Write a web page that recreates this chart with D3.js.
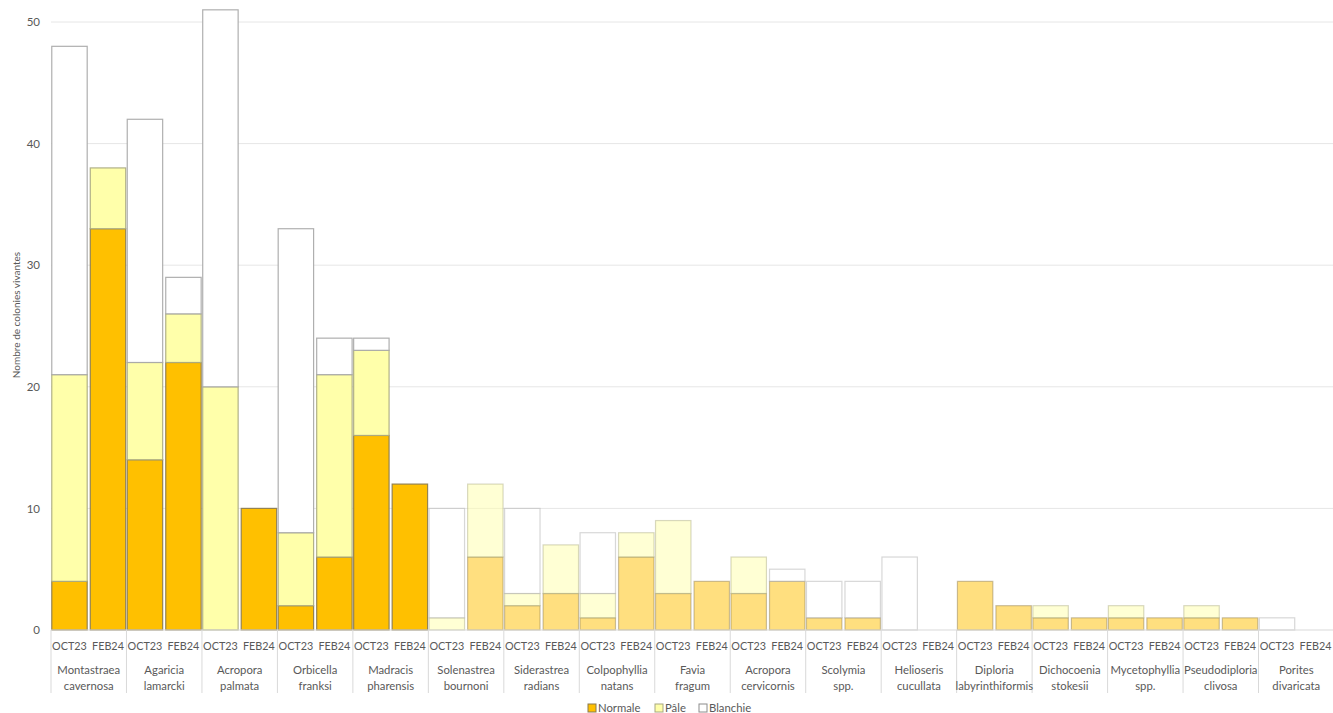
<!DOCTYPE html>
<html>
<head>
<meta charset="utf-8">
<script src="https://cdn.jsdelivr.net/npm/d3@7"></script>
<style>
  html, body { margin: 0; padding: 0; background: #fff; }
  svg { display: block; font-family: Lato, "Open Sans", sans-serif; }
</style>
</head>
<body>
<svg id="chart" width="1333" height="713"></svg>
<script>
// Species surveyed (label lines) and survey periods
const species = [
  ["Montastraea", "cavernosa"], ["Agaricia", "lamarcki"], ["Acropora", "palmata"],
  ["Orbicella", "franksi"], ["Madracis", "pharensis"], ["Solenastrea", "bournoni"],
  ["Siderastrea", "radians"], ["Colpophyllia", "natans"], ["Favia", "fragum"],
  ["Acropora", "cervicornis"], ["Scolymia", "spp."], ["Helioseris", "cucullata"],
  ["Diploria", "labyrinthiformis"], ["Dichocoenia", "stokesii"], ["Mycetophyllia", "spp."],
  ["Pseudodiploria", "clivosa"], ["Porites", "divaricata"]
];
const periods = ["OCT23", "FEB24"];
const statuses = ["Normale", "Pâle", "Blanchie"];

// Colony counts per species: [OCT23, FEB24]
const normale  = [[4, 33], [14, 22], [0, 10], [2, 6], [16, 12], [0, 6], [2, 3], [1, 6], [3, 4], [3, 4], [1, 1], [0, 0], [4, 2], [1, 1], [1, 1], [1, 1], [0, 0]];
const pale     = [[17, 5], [8, 4], [20, 0], [6, 15], [7, 0], [1, 6], [1, 4], [2, 2], [6, 0], [3, 0], [0, 0], [0, 0], [0, 0], [1, 0], [1, 0], [1, 0], [0, 0]];
const blanchie = [[27, 0], [20, 3], [31, 0], [25, 3], [1, 0], [9, 0], [7, 0], [5, 0], [0, 0], [0, 1], [3, 3], [6, 0], [0, 0], [0, 0], [0, 0], [0, 0], [1, 0]];
const yTicks = [0, 10, 20, 30, 40, 50];

const fills = { "Normale": "#FFC000", "Pâle": "#FFFFAA", "Blanchie": "#FFFFFF" };
const strokes = { "Normale": "#8a7a50", "Pâle": "#a8a880", "Blanchie": "#a6a6a6" };
const textColor = "#595959";

const svg = d3.select("#chart");
const left = 51, right = 1334, base = 630;

const x0 = d3.scaleBand().domain(d3.range(species.length)).range([left, right]).padding(0);
const x1 = d3.scaleBand().domain(periods).range([0, x0.bandwidth()]).paddingInner(0.08).paddingOuter(0.02);
const y = d3.scaleLinear().domain([0, 50]).range([base, 22]);

// Horizontal gridlines
svg.append("g").selectAll("line").data(yTicks.filter(d => d > 0)).join("line")
  .attr("x1", left).attr("x2", right)
  .attr("y1", d => y(d)).attr("y2", d => y(d))
  .attr("stroke", "#e6e6e6").attr("stroke-width", 1);

// Y axis labels
const yAxis = d3.axisLeft(y).tickValues(yTicks).tickSize(0).tickPadding(11);
const gy = svg.append("g").attr("transform", `translate(${left},0)`).call(yAxis);
gy.select(".domain").remove();
gy.selectAll("text").attr("fill", textColor).attr("font-size", 11.5)
  .attr("font-family", "Lato, 'Open Sans', sans-serif");

// Y axis title
svg.append("text")
  .attr("transform", `translate(20,${base / 2}) rotate(-90)`)
  .attr("text-anchor", "middle").attr("fill", textColor).attr("font-size", 10)
  .text("Nombre de colonies vivantes");

// Stacked records
const rows = [];
species.forEach((sp, i) => {
  periods.forEach((p, j) => {
    const vals = { "Normale": normale[i][j], "Pâle": pale[i][j], "Blanchie": blanchie[i][j] };
    let acc = 0;
    statuses.forEach(s => {
      const v = vals[s];
      if (v > 0) rows.push({ i, p, s, y0: acc, y1: acc + v });
      acc += v;
    });
  });
});

// Later species are drawn in faded tones
svg.append("g").selectAll("rect").data(rows).join("rect")
  .attr("x", d => x0(d.i) + x1(d.p))
  .attr("width", x1.bandwidth())
  .attr("y", d => y(d.y1))
  .attr("height", d => y(d.y0) - y(d.y1))
  .attr("fill", d => fills[d.s])
  .attr("fill-opacity", d => d.i >= 5 ? 0.5 : 1)
  .attr("stroke", d => strokes[d.s])
  .attr("stroke-opacity", d => d.i >= 5 ? 0.45 : 0.9)
  .attr("stroke-width", 1.2);

// Baseline
svg.append("line").attr("x1", left).attr("x2", right).attr("y1", base).attr("y2", base)
  .attr("stroke", "#d9d9d9").attr("stroke-width", 1);

// Category separators
svg.append("g").selectAll("line").data(d3.range(species.length + 1)).join("line")
  .attr("x1", i => left + i * x0.step()).attr("x2", i => left + i * x0.step())
  .attr("y1", base).attr("y2", 693)
  .attr("stroke", "#d9d9d9").attr("stroke-width", 1);

// Period labels
const pl = [];
species.forEach((sp, i) => periods.forEach(p => pl.push({ i, p })));
svg.append("g").selectAll("text").data(pl).join("text")
  .attr("x", d => x0(d.i) + x1(d.p) + x1.bandwidth() / 2)
  .attr("y", 650).attr("text-anchor", "middle")
  .attr("fill", textColor).attr("font-size", 10.8)
  .text(d => d.p);

// Species labels (two lines)
const sl = svg.append("g").selectAll("text").data(species).join("text")
  .attr("text-anchor", "middle").attr("fill", textColor).attr("font-size", 11.3);
sl.each(function(d, i) {
  const t = d3.select(this);
  const cx = x0(i) + x0.bandwidth() / 2;
  t.append("tspan").attr("x", cx).attr("y", 674).text(d[0]);
  t.append("tspan").attr("x", cx).attr("y", 690).text(d[1]);
});

// Legend
const legend = svg.append("g").attr("transform", "translate(588,712)");
const lx = [0, 67, 111];
statuses.forEach((s, k) => {
  const g = legend.append("g").attr("transform", `translate(${lx[k]},0)`);
  g.append("rect").attr("x", 0).attr("y", -8).attr("width", 8).attr("height", 8)
    .attr("fill", fills[s]).attr("stroke", k === 2 ? "#8c8c8c" : strokes[s]);
  g.append("text").attr("x", 10).attr("y", 0).attr("fill", textColor).attr("font-size", 11.3).text(s);
});
</script>
</body>
</html>
